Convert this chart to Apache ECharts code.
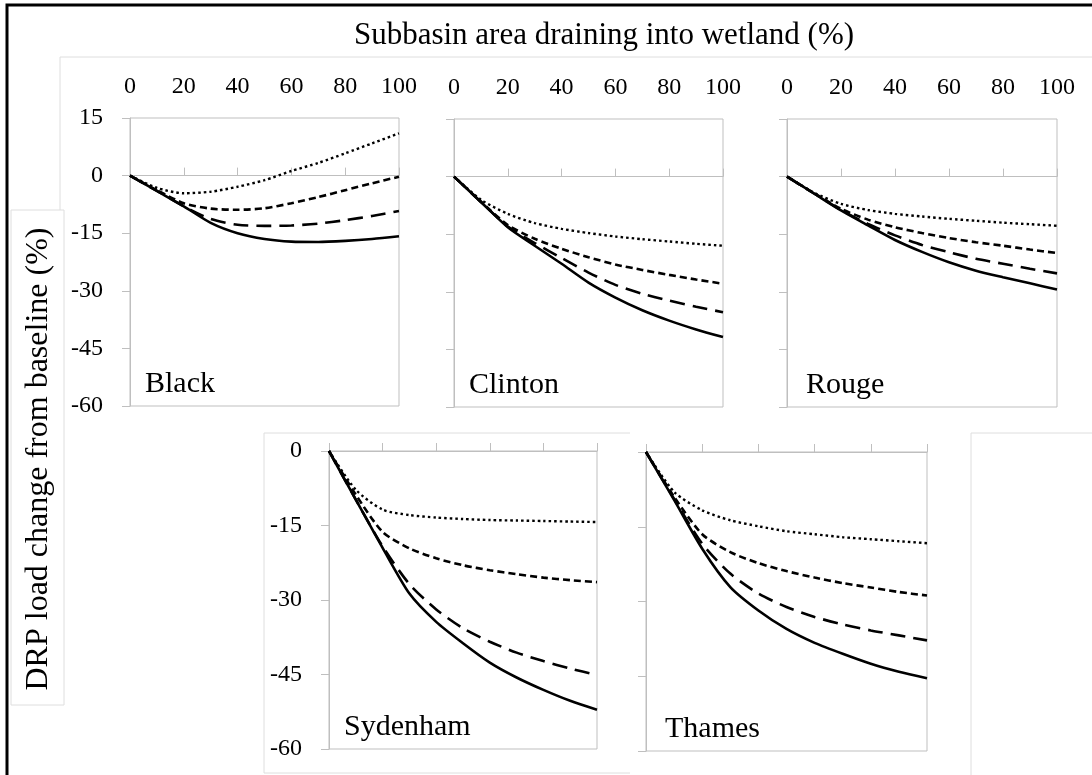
<!DOCTYPE html>
<html>
<head>
<meta charset="utf-8">
<script src="https://cdn.jsdelivr.net/npm/echarts@6/dist/echarts.min.js"></script>
<style>
  html, body { margin: 0; padding: 0; background: #fff; }
  #chart { width: 1092px; height: 775px; }
</style>
</head>
<body>
<div id="chart"></div>
<script>
// ---- data (x = subbasin area draining into wetland, %) ----
const xs = [0, 10, 20, 30, 40, 50, 60, 70, 80, 90, 100];
const topTickLabels = ['0', '20', '40', '60', '80', '100'];
const basins = ['Black', 'Clinton', 'Rouge', 'Sydenham', 'Thames'];
const lineKinds = ['solid', 'long dash', 'short dash', 'dotted'];

const blackSolid  = [0, -4.0, -8.0, -12.3, -15.0, -16.5, -17.2, -17.3, -17.0, -16.5, -15.8];
const blackLong   = [0, -4.0, -8.0, -11.3, -12.8, -13.1, -13.0, -12.5, -11.6, -10.5, -9.2];
const blackShort  = [0, -3.8, -7.2, -8.6, -8.9, -8.5, -7.2, -5.6, -3.8, -2.0, -0.3];
const blackDot    = [0, -3.2, -4.6, -4.2, -2.9, -1.2, 1.2, 3.3, 5.8, 8.4, 11.0];

const clintonSolid = [0, -6.6, -13.2, -18.0, -22.7, -27.6, -31.5, -34.8, -37.5, -39.8, -41.8];
const clintonLong  = [0, -6.6, -13.0, -17.3, -21.2, -25.0, -28.2, -30.5, -32.3, -33.9, -35.3];
const clintonShort = [0, -6.5, -12.6, -16.2, -18.8, -21.0, -22.9, -24.3, -25.6, -26.8, -27.9];
const clintonDot   = [0, -6.0, -9.7, -12.1, -13.6, -14.7, -15.6, -16.3, -16.9, -17.5, -18.0];

const rougeSolid = [0, -4.4, -8.8, -12.7, -16.5, -19.6, -22.3, -24.5, -26.2, -27.8, -29.4];
const rougeLong  = [0, -4.4, -8.7, -12.3, -15.3, -17.8, -19.7, -21.4, -22.7, -24.0, -25.2];
const rougeShort = [0, -4.3, -8.4, -11.2, -13.2, -14.7, -16.0, -17.1, -18.0, -19.0, -19.9];
const rougeDot   = [0, -4.2, -7.1, -8.7, -9.7, -10.4, -11.0, -11.5, -12.0, -12.4, -12.8];

const sydenhamSolid = [0, -9.8, -19.5, -28.7, -34.4, -38.7, -42.6, -45.6, -48.1, -50.3, -52.1];
const sydenhamLong  = [0, -9.8, -19.2, -26.8, -31.9, -35.7, -38.4, -40.6, -42.3, -43.8, -45.1];
const sydenhamShort = [0, -8.8, -16.3, -19.6, -21.6, -23.0, -24.0, -24.8, -25.5, -26.0, -26.4];
const sydenhamDot   = [0, -7.8, -11.8, -12.9, -13.4, -13.7, -13.9, -14.0, -14.1, -14.2, -14.3];

const thamesSolid = [0, -9.6, -19.4, -27.1, -31.8, -35.5, -38.3, -40.5, -42.5, -44.1, -45.4];
const thamesLong  = [0, -9.4, -18.4, -24.4, -28.4, -31.1, -33.1, -34.6, -35.8, -36.8, -37.8];
const thamesShort = [0, -9.0, -16.5, -20.1, -22.3, -23.9, -25.2, -26.3, -27.2, -28.1, -28.8];
const thamesDot   = [0, -8.0, -11.7, -13.7, -14.9, -15.9, -16.5, -17.1, -17.5, -17.9, -18.3];

const basinData = [
  [blackSolid, blackLong, blackShort, blackDot],
  [clintonSolid, clintonLong, clintonShort, clintonDot],
  [rougeSolid, rougeLong, rougeShort, rougeDot],
  [sydenhamSolid, sydenhamLong, sydenhamShort, sydenhamDot],
  [thamesSolid, thamesLong, thamesShort, thamesDot]
];

// ---- layout ----
const FONT = "'Liberation Serif', 'Times New Roman', serif";
const GRAY = '#bfbfbf';
const FAINT = '#dedede';
const panels = [
  { left: 130, top: 118, width: 269, height: 288, ymax: 15, yLabels: true,  topLabels: true },
  { left: 454, top: 119, width: 269, height: 288, ymax: 15, yLabels: false, topLabels: true },
  { left: 787, top: 119, width: 270, height: 288, ymax: 15, yLabels: false, topLabels: true },
  { left: 329, top: 451, width: 268, height: 298, ymax: 0,  yLabels: true,  topLabels: false },
  { left: 646, top: 452, width: 281, height: 299, ymax: 0,  yLabels: false, topLabels: false }
];
const lineStyles = [
  { type: 'solid', width: 2.6 },
  { type: [15, 8], width: 2.6 },
  { type: [7, 4], width: 2.6 },
  { type: [2.5, 3], width: 2.4 }
];

const grids = [], xAxes = [], yAxes = [], series = [], graphics = [];

panels.forEach((p, i) => {
  grids.push({ left: p.left, top: p.top, width: p.width, height: p.height,
    show: true, borderColor: GRAY, borderWidth: 1, backgroundColor: 'transparent' });
  const mainX = xAxes.length;
  xAxes.push({
    type: 'value', gridIndex: i, min: 0, max: 100, interval: 20, position: 'bottom',
    axisLine: { show: true, onZero: true, lineStyle: { color: GRAY, width: 1 } },
    axisTick: { show: true, inside: true, length: 8, lineStyle: { color: GRAY } },
    axisLabel: { show: false }, splitLine: { show: false }
  });
  if (p.topLabels) {
    xAxes.push({
      type: 'value', gridIndex: i, min: 0, max: 100, interval: 20, position: 'top',
      axisLine: { show: false, onZero: false }, axisTick: { show: false }, splitLine: { show: false },
      axisLabel: { show: true, margin: 19, fontFamily: FONT, fontSize: 24, color: '#000',
        formatter: v => topTickLabels[Math.round(v / 20)] }
    });
  }
  yAxes.push({
    type: 'value', gridIndex: i, min: -60, max: p.ymax, interval: 15,
    axisLine: { show: true, onZero: false, lineStyle: { color: GRAY, width: 1 } },
    axisTick: { show: true, inside: false, length: 8, lineStyle: { color: GRAY } },
    axisLabel: { show: p.yLabels, margin: 27, fontFamily: FONT, fontSize: 24, color: '#000' },
    splitLine: { show: false }
  });
  basinData[i].forEach((vals, k) => {
    series.push({
      name: basins[i] + ' ' + lineKinds[k], type: 'line', xAxisIndex: mainX, yAxisIndex: i,
      data: xs.map((x, j) => [x, vals[j]]),
      showSymbol: false, symbol: 'none', smooth: 0.25,
      lineStyle: { color: '#000', width: lineStyles[k].width, type: lineStyles[k].type, cap: 'butt' },
      emphasis: { disabled: true }, silent: true, z: 3
    });
  });
  graphics.push({
    type: 'text', x: p.left + (i === 2 || i === 4 ? 19 : 15), y: p.top + p.height - 22,
    style: { text: basins[i], font: '30px ' + FONT, fill: '#000',
      align: 'left', verticalAlign: 'middle', textAlign: 'left', textVerticalAlign: 'middle' },
    z: 10
  });
});

// faint chart-object boxes
const faintLines = [
  [60, 57, 1092, 57], [60, 57, 60, 210],
  [11, 210, 64, 210], [64, 210, 64, 705], [11, 705, 64, 705], [11, 210, 11, 705],
  [264, 433, 630, 433], [264, 433, 264, 773], [264, 773, 630, 773],
  [971, 433, 1092, 433], [971, 433, 971, 775]
];
faintLines.forEach(l => graphics.push({
  type: 'line', shape: { x1: l[0], y1: l[1], x2: l[2], y2: l[3] },
  style: { stroke: FAINT, lineWidth: 1 }, z: 0, silent: true
}));
// outer border
graphics.push({ type: 'rect', shape: { x: 7, y: 5, width: 1090, height: 775 },
  style: { fill: 'none', stroke: '#000', lineWidth: 3 }, z: 0, silent: true });
// titles
graphics.push({ type: 'text', x: 604, y: 36,
  style: { text: 'Subbasin area draining into wetland (%)', font: '31px ' + FONT, fill: '#000',
    align: 'center', verticalAlign: 'middle', textAlign: 'center', textVerticalAlign: 'middle' }, z: 10 });
graphics.push({ type: 'text', x: 39, y: 459, rotation: Math.PI / 2,
  style: { text: 'DRP load change from baseline (%)', font: '32px ' + FONT, fill: '#000',
    align: 'center', verticalAlign: 'middle', textAlign: 'center', textVerticalAlign: 'middle' }, z: 10 });

const chart = echarts.init(document.getElementById('chart'), null, { renderer: 'canvas' });
chart.setOption({
  animation: false,
  backgroundColor: '#fff',
  grid: grids, xAxis: xAxes, yAxis: yAxes, series: series,
  graphic: graphics
});
</script>
</body>
</html>
